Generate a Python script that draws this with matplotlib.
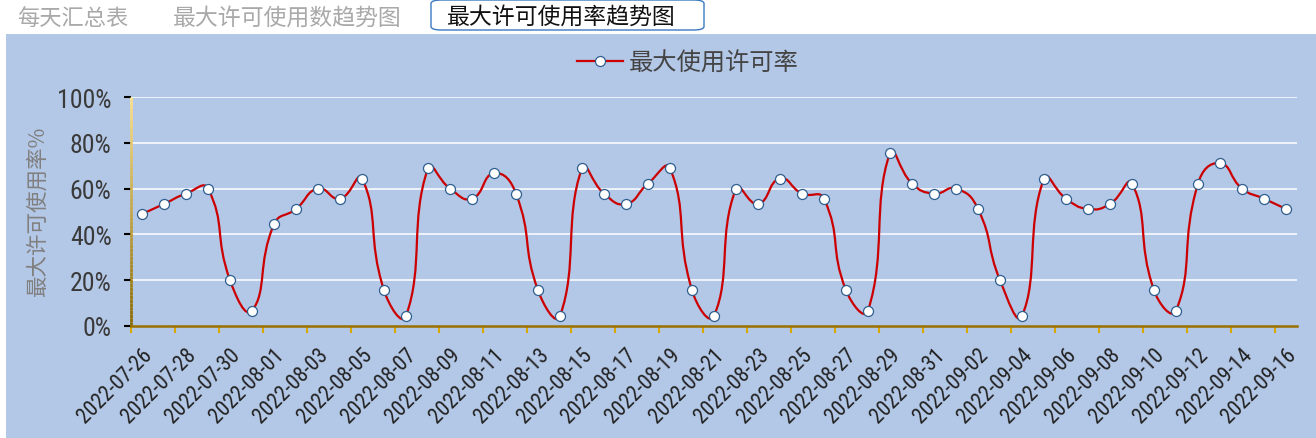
import numpy as np
import matplotlib
matplotlib.use("Agg")
import matplotlib.pyplot as plt
from matplotlib.path import Path
from matplotlib.patches import PathPatch, Rectangle, FancyBboxPatch
from matplotlib.collections import LineCollection
from matplotlib.lines import Line2D
from matplotlib.transforms import ScaledTranslation
import matplotlib.colors as mcolors
import datetime as dt

# ---------------- data ----------------
start_date = dt.date(2022, 7, 26)
dates = [(start_date + dt.timedelta(days=i)).strftime("%Y-%m-%d") for i in range(53)]
usage_rate = [48.9, 53.3, 57.8, 60.0, 20.0, 6.7, 44.4, 51.1, 60.0, 55.6,
              64.4, 15.6, 4.4, 68.9, 60.0, 55.6, 66.7, 57.8, 15.6, 4.4,
              68.9, 57.8, 53.3, 62.2, 68.9, 15.6, 4.4, 60.0, 53.3, 64.4,
              57.8, 55.6, 15.6, 6.7, 75.6, 62.2, 57.8, 60.0, 51.1, 20.0,
              4.4, 64.4, 55.6, 51.1, 53.3, 62.2, 15.6, 6.7, 62.2, 71.1,
              60.0, 55.6, 51.1]
y_ticks = [0, 20, 40, 60, 80, 100]
tabs = ["每天汇总表", "最大许可使用数趋势图", "最大许可使用率趋势图"]
series_name = "最大使用许可率"
y_title = "最大许可使用率%"

CJK = ["Noto Sans CJK SC", "DejaVu Sans"]
NARROW = ["Roboto Condensed", "Archivo Narrow", "DejaVu Sans"]

W, H = 1316, 439
fig = plt.figure(figsize=(W / 100, H / 100), dpi=100)
fig.patch.set_facecolor("white")

# blue panel
panel_color = "#b3c7e6"
fig.patches.append(Rectangle((6 / W, 0), 1 - 6 / W, 1 - 35 / H, transform=fig.transFigure,
                             facecolor=panel_color, edgecolor="none", zorder=-10))

# tabs
fig.text(17 / W, 1 - 18 / H, tabs[0], family=CJK, fontsize=16, color="#a9a9a9", va="center", ha="left")
fig.text(173 / W, 1 - 18 / H, tabs[1], family=CJK, fontsize=16.5, color="#a9a9a9", va="center", ha="left")
fig.patches.append(FancyBboxPatch((431 / W, 1 - 31 / H), 273 / W, 30 / H,
                                  boxstyle="round,pad=0,rounding_size=0.008",
                                  transform=fig.transFigure, facecolor="white",
                                  edgecolor="#3a78c0", linewidth=1.0, zorder=1))
fig.text(447 / W, 1 - 17 / H, tabs[2], family=CJK, fontsize=16.5, color="#111111",
         va="center", ha="left", zorder=2)

# axes
left, right, top, bottom = 131, 1297, 98, 327
ax = fig.add_axes([left / W, 1 - bottom / H, (right - left) / W, (bottom - top) / H])
ax.set_zorder(2)
ax.set_facecolor("none")
n = len(usage_rate)
x = np.arange(n)
ax.set_xlim(-0.5, n - 0.5)
ax.set_ylim(0, 100)
for s in ax.spines.values():
    s.set_visible(False)

# gridlines
for yv in y_ticks[1:]:
    ax.axhline(yv, color="white", lw=1.1, zorder=1)

# y axis gradient line
yy = np.linspace(0, 100, 60)
pts = np.array([np.full_like(yy, -0.5), yy]).T.reshape(-1, 1, 2)
segs = np.concatenate([pts[:-1], pts[1:]], axis=1)
c_top = np.array(mcolors.to_rgb("#ffe38c"))
c_bot = np.array(mcolors.to_rgb("#8c6a00"))
cols = [tuple(c_bot + (c_top - c_bot) * (v / 100)) for v in yy[:-1]]
lc = LineCollection(segs, colors=cols, linewidths=2.0, transform=ax.transData, clip_on=False, zorder=3)
ax.add_collection(lc)

# y ticks
ax.set_yticks(y_ticks)
ax.set_yticklabels([f"{v}%" for v in y_ticks])
ax.tick_params(axis="y", length=5, width=1.5, pad=9, labelsize=18.5, labelcolor="#3a3a3a")
for t, v in zip(ax.yaxis.get_major_ticks(), y_ticks):
    t.tick1line.set_color(tuple(c_bot + (c_top - c_bot) * (v / 100)))
for lab in ax.get_yticklabels():
    lab.set_family(NARROW)

# x axis line
ax.plot([-0.5, n - 0.5], [0, 0], color="#9a7000", lw=1.8, clip_on=False, zorder=3)
ax.set_xticks(np.arange(0, n, 2))
ax.set_xticklabels([dates[i] for i in range(0, n, 2)])
ax.set_xticks(np.arange(-0.5, n - 1, 2), minor=True)
ax.tick_params(axis="x", which="major", length=0, pad=13, labelsize=15.5, labelcolor="#222222")
ax.tick_params(axis="x", which="minor", length=5, width=1.5, color="#d8a800")
offset = ScaledTranslation(0 / 100, 0, fig.dpi_scale_trans)
for lab in ax.get_xticklabels():
    lab.set_family(NARROW)
    lab.set_rotation(45)
    lab.set_ha("right")
    lab.set_va("top")
    lab.set_rotation_mode("anchor")
    lab.set_transform(lab.get_transform() + offset)

# smooth line (echarts-like bezier smoothing in pixel space)
fig.canvas.draw()
disp = ax.transData.transform(np.column_stack([x, usage_rate]))
px, py = disp[:, 0], disp[:, 1]
smooth = 0.5
verts = [(px[0], py[0])]
codes = [Path.MOVETO]
cp0 = (px[0], py[0])
for j in range(1, n):
    xj, yj = px[j], py[j]
    if j < n - 1:
        vx = px[j + 1] - px[j - 1]
        vy = py[j + 1] - py[j - 1]
        d0 = np.hypot(xj - px[j - 1], yj - py[j - 1])
        d1 = np.hypot(px[j + 1] - xj, py[j + 1] - yj)
        r = d1 / (d0 + d1)
        cp1 = (xj - vx * smooth * (1 - r), yj - vy * smooth * (1 - r))
        ncp0 = (xj + vx * smooth * r, yj + vy * smooth * r)
    else:
        cp1 = (xj, yj)
        ncp0 = None
    verts += [cp0, cp1, (xj, yj)]
    codes += [Path.CURVE4] * 3
    cp0 = ncp0
verts_data = ax.transData.inverted().transform(np.array(verts))
path = Path(verts_data, codes)
ax.add_patch(PathPatch(path, facecolor="none", edgecolor="#cc0000", lw=1.6, zorder=4,
                       clip_on=False))
ax.plot(x, usage_rate, linestyle="none", marker="o", markersize=7.2,
        markerfacecolor="white", markeredgecolor="#2f5f8f", markeredgewidth=0.9,
        zorder=5, clip_on=False)

# y title
fig.text(38 / W, 1 - 212 / H, y_title, family=CJK, fontsize=15.5, color="#808080",
         rotation=90, ha="center", va="center")

# legend
handle = Line2D([], [], color="#cc0000", lw=1.6, marker="o", markersize=7.2,
                markerfacecolor="white", markeredgecolor="#2f5f8f", markeredgewidth=0.9)
leg = fig.legend([handle], [series_name], loc="center", bbox_to_anchor=(688 / W, 1 - 64 / H),
                 frameon=False, handlelength=1.9, handletextpad=0.25,
                 prop={"family": CJK, "size": 17.5})
for t in leg.get_texts():
    t.set_color("#444444")

fig.savefig("out.png", dpi=100, facecolor=fig.get_facecolor())
